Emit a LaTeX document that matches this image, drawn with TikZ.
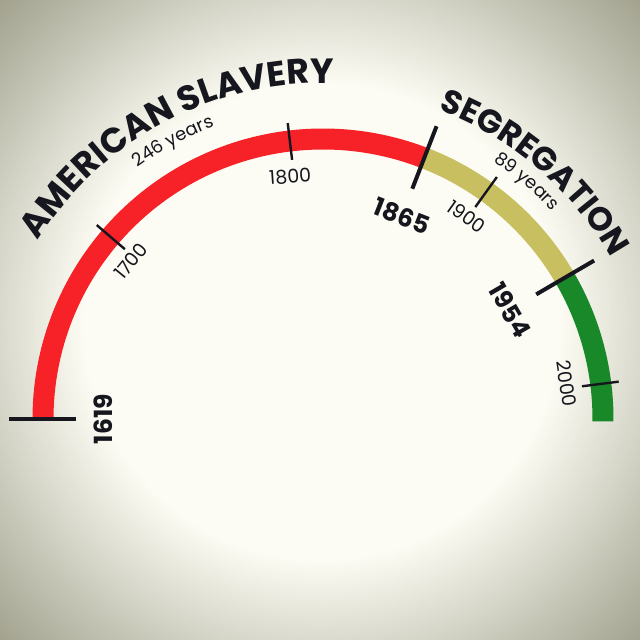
\documentclass[tikz,border=0pt]{standalone}
\usepackage{fontspec}
\setmainfont{Poppins}
\usetikzlibrary{decorations.text}
\definecolor{slavred}{RGB}{246,34,40}
\definecolor{segolive}{RGB}{200,192,96}
\definecolor{nowgreen}{RGB}{24,136,40}
\definecolor{inkc}{RGB}{22,22,30}
\definecolor{bglight}{RGB}{252,252,244}
\definecolor{bgout}{RGB}{156,156,136}
\newcommand\headsty{\fontsize{35}{40}\selectfont\bfseries}
\newcommand\segsty{\fontsize{33}{38}\selectfont\bfseries}
\newcommand\spansty{\fontsize{18}{20}\selectfont}
\newcommand\majsty{\fontsize{25}{28}\selectfont\bfseries}
\newcommand\minsty{\fontsize{19}{22}\selectfont}
\begin{document}
\begin{tikzpicture}[x=1pt,y=1pt,
  band/.style={line width=21pt},
  majortick/.style={line width=4pt, draw=inkc},
  minortick/.style={line width=2.4pt, draw=inkc},
  majlabel/.style={text=inkc, font=\majsty, inner sep=0pt},
  minlabel/.style={text=inkc, font=\minsty, inner sep=0pt}]
\useasboundingbox (0,0) rectangle (640,640);
\begin{scope}
\clip (0,0) rectangle (640,640);
\fill[bgout] (0,0) rectangle (640,640);
\foreach \i in {0,...,70} {
  \pgfmathsetmacro\r{470-\i*3.3}
  \pgfmathsetmacro\m{100*\i/70}
  \fill[bglight!\m!bgout] (322,318) circle[radius=\r pt];
}
\end{scope}
\begin{scope}[shift={(323,221)}]
\coordinate (C) at (0,0);
\draw[band, slavred] (180:280pt) arc[start angle=180, end angle=68.8, radius=280pt];
\draw[band, segolive] (68.8:280pt) arc[start angle=68.8, end angle=30.3, radius=280pt];
\draw[band, nowgreen] (30.3:280pt) arc[start angle=30.3, end angle=-0.5, radius=280pt];
\foreach \a in {180, 68.8, 30.3} \draw[majortick] (\a:247pt) -- (\a:314pt);
\foreach \a in {139.4, 96.8, 54.3, 7.2} \draw[minortick] (\a:261pt) -- (\a:298pt);
\node[majlabel, rotate=90] (y1619) at (180:220pt) {1619};
\node[majlabel, rotate=-21.3] (y1865) at (68.7:218pt) {1865};
\node[majlabel, rotate=-59.8] (y1954) at (30.2:216.5pt) {1954};
\node[minlabel, rotate=50.6] (y1700) at (140.6:249pt) {1700};
\node[minlabel, rotate=4] (y1800) at (97.7:245pt) {1800};
\node[minlabel, rotate=-35.4] (y1900) at (54.6:248pt) {1900};
\node[minlabel, rotate=-81.7] (y2000) at (8.3:246pt) {2000};
\path[decorate, decoration={text along path, text={|\headsty|AMERICAN SLAVERY}, text color=inkc, text align=left}] (148:336pt) arc[start angle=148, end angle=50, radius=336pt];
\path[decorate, decoration={text along path, text={|\segsty|SEGREGATION}, text color=inkc, text align=left}] (69.5:330pt) arc[start angle=69.5, end angle=-10, radius=330pt];
\path[decorate, decoration={text along path, text={|\spansty|246 years}, text color=inkc, text align=left}] (126.4:312pt) arc[start angle=126.4, end angle=90, radius=312pt];
\path[decorate, decoration={text along path, text={|\spansty|89 years}, text color=inkc, text align=left}] (56.5:309pt) arc[start angle=56.5, end angle=20, radius=309pt];
\end{scope}
\end{tikzpicture}
\end{document}
